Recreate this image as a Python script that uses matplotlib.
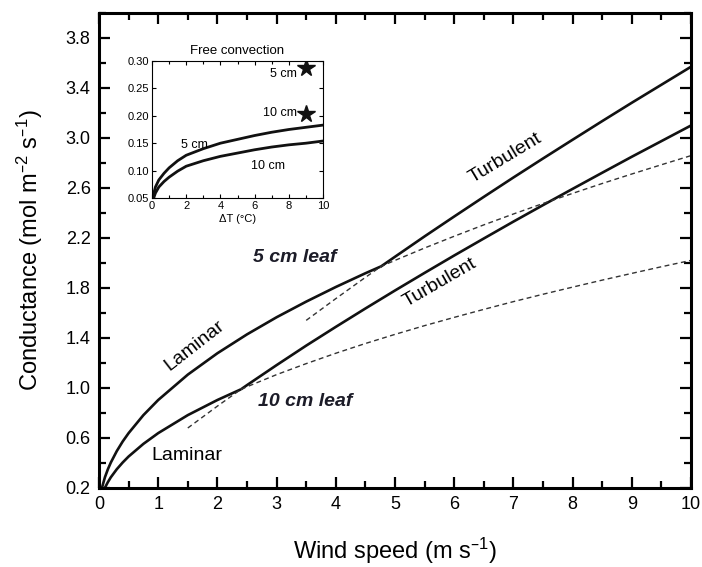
import matplotlib
matplotlib.use("Agg")
import matplotlib.pyplot as plt
from matplotlib.ticker import MultipleLocator

plt.rcParams["font.family"] = ["Liberation Sans", "DejaVu Sans"]
plt.rcParams["mathtext.default"] = "regular"

# 5 cm leaf, laminar (solid part then dashed extension)
wind_lam5 = [0, 0.02, 0.05, 0.1, 0.15, 0.2, 0.3, 0.4, 0.5, 0.75, 1, 1.5, 2, 2.5, 3, 3.5, 4, 4.5, 4.75]
g_lam5 = [0, 0.128, 0.202, 0.286, 0.350, 0.404, 0.495, 0.572, 0.639, 0.783, 0.904, 1.107,
          1.278, 1.429, 1.566, 1.691, 1.808, 1.918, 1.970]
wind_lam5_ext = [4.75, 5, 5.5, 6, 6.5, 7, 7.5, 8, 8.5, 9, 9.5, 10]
g_lam5_ext = [1.970, 2.021, 2.120, 2.214, 2.305, 2.392, 2.476, 2.557, 2.636, 2.712, 2.786, 2.859]

# 5 cm leaf, turbulent
wind_turb5 = [4.75, 5, 5.5, 6, 6.5, 7, 7.5, 8, 8.5, 9, 9.5, 10]
g_turb5 = [1.968, 2.050, 2.213, 2.372, 2.529, 2.684, 2.836, 2.986, 3.135, 3.282, 3.426, 3.570]
wind_turb5_ext = [3.5, 4, 4.5, 4.75]
g_turb5_ext = [1.541, 1.715, 1.885, 1.968]

# 10 cm leaf, laminar
wind_lam10 = [0, 0.02, 0.05, 0.1, 0.15, 0.2, 0.3, 0.4, 0.5, 0.75, 1, 1.5, 2, 2.4]
g_lam10 = [0, 0.090, 0.143, 0.202, 0.247, 0.286, 0.350, 0.404, 0.452, 0.553, 0.639, 0.783, 0.904, 0.990]
wind_lam10_ext = [2.4, 2.5, 3, 3.5, 4, 4.5, 5, 5.5, 6, 6.5, 7, 7.5, 8, 8.5, 9, 9.5, 10]
g_lam10_ext = [0.990, 1.010, 1.107, 1.195, 1.278, 1.356, 1.429, 1.499, 1.565, 1.629, 1.691,
               1.750, 1.807, 1.863, 1.917, 1.970, 2.021]

# 10 cm leaf, turbulent
wind_turb10 = [2.4, 2.5, 3, 3.5, 4, 4.5, 5, 5.5, 6, 6.5, 7, 7.5, 8, 8.5, 9, 9.5, 10]
g_turb10 = [0.990, 1.023, 1.183, 1.339, 1.489, 1.636, 1.780, 1.921, 2.060, 2.196, 2.331,
            2.463, 2.593, 2.722, 2.850, 2.975, 3.100]
wind_turb10_ext = [1.5, 2, 2.4]
g_turb10_ext = [0.680, 0.855, 0.990]

# inset: free convection vs temperature difference
dT_5 = [0.05, 0.1, 0.2, 0.4, 0.7, 1, 1.5, 2, 3, 4, 5, 6, 7, 8, 9, 10]
gfree_5 = [0.050, 0.058, 0.070, 0.083, 0.095, 0.105, 0.118, 0.128, 0.140, 0.150, 0.157,
           0.164, 0.170, 0.175, 0.179, 0.183]
dT_10 = [0.1, 0.2, 0.4, 0.7, 1, 1.5, 2, 3, 4, 5, 6, 7, 8, 9, 10]
gfree_10 = [0.050, 0.059, 0.070, 0.080, 0.088, 0.099, 0.108, 0.118, 0.126, 0.132, 0.138,
            0.143, 0.147, 0.150, 0.154]
star_dT = [9, 9]
star_g = [0.287, 0.203]

fig = plt.figure(figsize=(7.02, 5.67), dpi=100)
ax = fig.add_axes([99 / 702, 1 - 488 / 567, 592 / 702, 475 / 567])

solid = dict(color="#111111", lw=1.9, solid_capstyle="butt")
dashed = dict(color="#333333", lw=1.0, dashes=(3.5, 2.5))

ax.plot(wind_lam5, g_lam5, **solid)
ax.plot(wind_turb5, g_turb5, **solid)
ax.plot(wind_lam10, g_lam10, **solid)
ax.plot(wind_turb10, g_turb10, **solid)
ax.plot(wind_lam5_ext, g_lam5_ext, **dashed)
ax.plot(wind_turb5_ext, g_turb5_ext, **dashed)
ax.plot(wind_lam10_ext, g_lam10_ext, **dashed)
ax.plot(wind_turb10_ext, g_turb10_ext, **dashed)

ax.set_xlim(0, 10)
ax.set_ylim(0.2, 4.0)
ax.xaxis.set_major_locator(MultipleLocator(1))
ax.xaxis.set_minor_locator(MultipleLocator(0.5))
ax.yaxis.set_major_locator(MultipleLocator(0.4, offset=0.2))
ax.yaxis.set_minor_locator(MultipleLocator(0.2))
ax.tick_params(which="both", direction="in", top=True, right=True, width=1.6, labelsize=13)
ax.tick_params(which="major", length=8, pad=6)
ax.tick_params(which="minor", length=5)
for s in ax.spines.values():
    s.set_linewidth(2.2)

ax.set_xlabel("Wind speed (m s$^{\u20131}$)", fontsize=17, labelpad=16)
ax.set_ylabel("Conductance (mol m$^{\u20132}$ s$^{\u20131}$)", fontsize=17, labelpad=15)

ax.text(6.86, 2.84, "Turbulent", fontsize=14, rotation=31, ha="center", va="center")
ax.text(5.76, 1.84, "Turbulent", fontsize=14, rotation=30, ha="center", va="center")
ax.text(1.62, 1.34, "Laminar", fontsize=14, rotation=38, ha="center", va="center")
ax.text(1.49, 0.46, "Laminar", fontsize=14, ha="center", va="center")
ax.text(3.31, 2.04, "5 cm leaf", fontsize=14, fontweight="bold", fontstyle="italic",
        ha="center", va="center", color="#1c1c28")
ax.text(3.48, 0.89, "10 cm leaf", fontsize=14, fontweight="bold", fontstyle="italic",
        ha="center", va="center", color="#1c1c28")

# inset
ins = fig.add_axes([152 / 702, 1 - 198 / 567, 171 / 702, 137 / 567])
ins.plot(dT_5, gfree_5, color="#111111", lw=2.0)
ins.plot(dT_10, gfree_10, color="#111111", lw=2.0)
ins.plot(star_dT, star_g, ls="none", marker="*", ms=13, color="#111111")
ins.set_xlim(0, 10)
ins.set_ylim(0.05, 0.30)
ins.xaxis.set_major_locator(MultipleLocator(2))
ins.xaxis.set_minor_locator(MultipleLocator(1))
ins.yaxis.set_major_locator(MultipleLocator(0.05))
ins.tick_params(which="both", direction="in", top=True, right=True, labelsize=8, pad=2, width=0.8)
ins.tick_params(which="major", length=3)
ins.tick_params(which="minor", length=2)
for s in ins.spines.values():
    s.set_linewidth(0.8)
ins.set_title("Free convection", fontsize=9.5, pad=5)
ins.set_xlabel("ΔT (°C)", fontsize=8, labelpad=2)
ins.text(7.7, 0.276, "5 cm", fontsize=9, ha="center", va="center")
ins.text(7.5, 0.206, "10 cm", fontsize=9, ha="center", va="center")
ins.text(2.5, 0.147, "5 cm", fontsize=9, ha="center", va="center")
ins.text(6.8, 0.108, "10 cm", fontsize=9, ha="center", va="center")

fig.savefig("out.png", dpi=100)
